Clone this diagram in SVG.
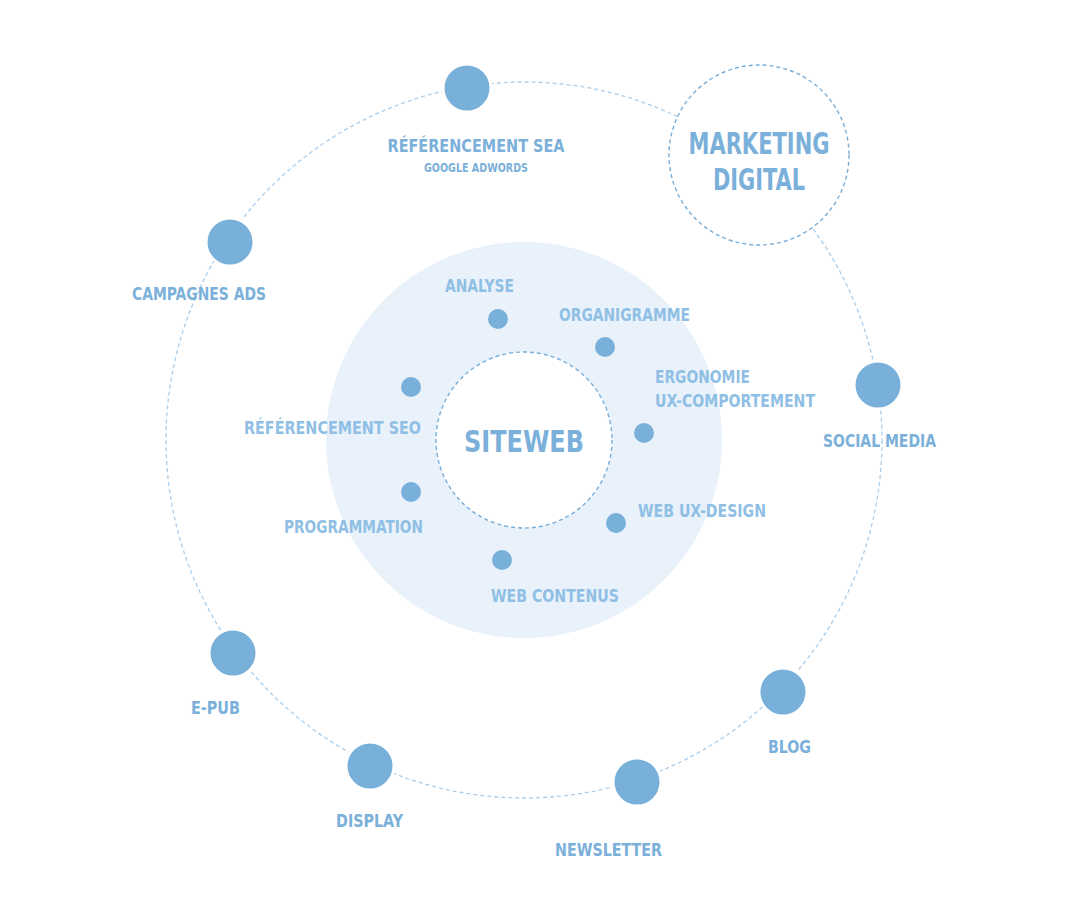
<svg xmlns="http://www.w3.org/2000/svg" width="1080" height="924" viewBox="0 0 1080 924">
<style>
.ring{fill:none;stroke:#aacdea;stroke-width:1.3;stroke-dasharray:4 3}
.hub{fill:#fff;stroke:#78aed9;stroke-width:1.4;stroke-dasharray:4 3}
.big{fill:#79b0da;stroke:#fff;stroke-width:3}
.dot{fill:#79b0da}
text{font-family:"DejaVu Sans Condensed","DejaVu Sans",sans-serif;font-weight:bold;fill:#7ab0da}
.o{font-size:18px}
.i{font-size:18px;fill:#8fbfe4}
.h{font-size:30px}
</style>
<rect width="1080" height="924" fill="#fff"/>
<circle id="zone" cx="524" cy="440" r="198" fill="#e9f2fb"/>
<g id="connectors">
<circle class="ring" cx="524" cy="440" r="358"/>
</g>
<g id="marketing"><circle class="hub" cx="759" cy="155" r="90"/>
<text class="h" x="759" y="154" text-anchor="middle" textLength="141" lengthAdjust="spacingAndGlyphs">MARKETING</text>
<text class="h" x="759" y="190" text-anchor="middle" textLength="92" lengthAdjust="spacingAndGlyphs">DIGITAL</text></g>
<g id="siteweb"><circle class="hub" cx="524" cy="440" r="88"/>
<text class="h" x="524" y="452" text-anchor="middle" textLength="120" lengthAdjust="spacingAndGlyphs">SITEWEB</text></g>
<g id="sea"><circle class="big" cx="467" cy="88" r="24"/>
<text class="o" x="476" y="152" text-anchor="middle" textLength="177" lengthAdjust="spacingAndGlyphs">RÉFÉRENCEMENT SEA</text>
<text x="476" y="172" text-anchor="middle" font-size="12.5" textLength="104" lengthAdjust="spacingAndGlyphs">GOOGLE ADWORDS</text></g>
<g id="campagnes"><circle class="big" cx="230" cy="242" r="24"/>
<text class="o" x="132" y="300" textLength="134" lengthAdjust="spacingAndGlyphs">CAMPAGNES ADS</text></g>
<g id="social"><circle class="big" cx="878" cy="385" r="24"/>
<text class="o" x="823" y="447" textLength="113" lengthAdjust="spacingAndGlyphs">SOCIAL MEDIA</text></g>
<g id="blog"><circle class="big" cx="783" cy="692" r="24"/>
<text class="o" x="768" y="753" textLength="43" lengthAdjust="spacingAndGlyphs">BLOG</text></g>
<g id="newsletter"><circle class="big" cx="637" cy="782" r="24"/>
<text class="o" x="555" y="856" textLength="107" lengthAdjust="spacingAndGlyphs">NEWSLETTER</text></g>
<g id="display"><circle class="big" cx="370" cy="766" r="24"/>
<text class="o" x="336" y="827" textLength="67" lengthAdjust="spacingAndGlyphs">DISPLAY</text></g>
<g id="epub"><circle class="big" cx="233" cy="653" r="24"/>
<text class="o" x="191" y="714" textLength="49" lengthAdjust="spacingAndGlyphs">E-PUB</text></g>
<g id="analyse"><circle class="dot" cx="498" cy="319" r="10"/>
<text class="i" x="445" y="292" textLength="69" lengthAdjust="spacingAndGlyphs">ANALYSE</text></g>
<g id="organigramme"><circle class="dot" cx="605" cy="347" r="10"/>
<text class="i" x="559" y="321" textLength="131" lengthAdjust="spacingAndGlyphs">ORGANIGRAMME</text></g>
<g id="ergonomie"><circle class="dot" cx="644" cy="433" r="10"/>
<text class="i" x="655" y="383" textLength="95" lengthAdjust="spacingAndGlyphs">ERGONOMIE</text>
<text class="i" x="655" y="407" textLength="160" lengthAdjust="spacingAndGlyphs">UX-COMPORTEMENT</text></g>
<g id="uxdesign"><circle class="dot" cx="616" cy="523" r="10"/>
<text class="i" x="638" y="517" textLength="128" lengthAdjust="spacingAndGlyphs">WEB UX-DESIGN</text></g>
<g id="contenus"><circle class="dot" cx="502" cy="560" r="10"/>
<text class="i" x="491" y="602" textLength="128" lengthAdjust="spacingAndGlyphs">WEB CONTENUS</text></g>
<g id="programmation"><circle class="dot" cx="411" cy="492" r="10"/>
<text class="i" x="284" y="533" textLength="139" lengthAdjust="spacingAndGlyphs">PROGRAMMATION</text></g>
<g id="seo"><circle class="dot" cx="411" cy="387" r="10"/>
<text class="i" x="244" y="434" textLength="177" lengthAdjust="spacingAndGlyphs">RÉFÉRENCEMENT SEO</text></g>
</svg>
